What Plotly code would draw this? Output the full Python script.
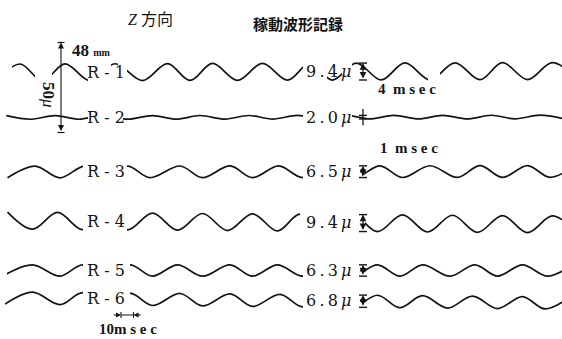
import numpy as np
import plotly.graph_objects as go

W, H = 562, 339
PX_PER_MS = 1.25   # chart speed: 10 msec = 12.5 px
PX_PER_UM = 1.8    # amplitude scale: 50 μ = 90 px

# ---- records -------------------------------------------------------------
records = ["R-1", "R-2", "R-3", "R-4", "R-5", "R-6"]
amplitude_um = [9.4, 2.0, 6.5, 9.4, 6.3, 6.8]          # peak-to-peak
first_is_peak = [False, True, False, True, False, False]

# times (msec) of successive extrema, alternating peak / trough
r1_ext_ms = [-3, 16, 34, 52, 72, 92, 114, 134, 152, 170, 190, 210, 230,
             248, 266, 285, 305, 324, 344, 364, 384, 402, 422, 442, 462]
r2_ext_ms = [5, 24, 44, 63, 82, 102, 122, 141, 160, 180, 199, 218, 238,
             258, 277, 296, 315, 335, 354, 374, 393, 412, 432, 451]
r3_ext_ms = [6, 28, 48, 68, 86, 102, 120, 144, 162, 184, 202, 223, 242,
             264, 284, 304, 322, 344, 366, 384, 402, 422, 440, 460]
r4_ext_ms = [6, 26, 46, 66, 84, 102, 122, 142, 162, 182, 202, 222, 240,
             262, 282, 302, 322, 342, 362, 382, 402, 422, 442, 462]
r5_ext_ms = [2, 26, 48, 66, 86, 104, 122, 142, 162, 184, 202, 222, 242,
             262, 282, 302, 320, 338, 360, 380, 398, 418, 438, 458]
r6_ext_ms = [4, 26, 48, 66, 86, 104, 122, 144, 162, 184, 202, 224, 242,
             262, 282, 302, 320, 338, 358, 378, 398, 418, 436, 456]
extrema_ms = [r1_ext_ms, r2_ext_ms, r3_ext_ms, r4_ext_ms, r5_ext_ms, r6_ext_ms]

scale_um = 50        # vertical reference bar
time_mark_ms = 10    # horizontal reference mark

# ---- layout helpers (page pixels -> axis units) -------------------------
def xm(px):
    return px / PX_PER_MS

def yu(py):
    return (H - py) / PX_PER_UM

# zero line of each record on the page: (left, right) in px
centre_px = [(72.5, 71.0), (117.5, 117.0), (172.0, 171.5),
             (220.5, 224.5), (270.5, 270.5), (298.0, 303.0)]

def centre_um(i, t):
    l, r = centre_px[i]
    f = np.clip(np.asarray(t, float) * PX_PER_MS / W, 0, 1)
    return yu(l + (r - l) * f)

# blank stretches of each trace (label space, start of record, breaks), px
gaps_px = [
    [(0, 12), (35, 52), (88, 111), (118, 127), (303, 327), (342, 352), (428, 440)],
    [(0, 5), (88, 123), (303, 352)],
    [(0, 7), (83, 127), (303, 362)],
    [(0, 7), (83, 127), (300, 365)],
    [(0, 7), (83, 130), (303, 362)],
    [(0, 5), (83, 130), (303, 362)],
]

INK = "#141414"
SERIF = "DejaVu Serif, Liberation Serif, serif"
TIMES = "Liberation Serif, DejaVu Serif, serif"
CJK = "Liberation Serif, Noto Sans CJK JP, serif"
THIN = "\u2009"

fig = go.Figure()
shapes = []
ann = []

for i, name in enumerate(records):
    t = np.asarray(extrema_ms[i], float)
    sign = np.array([1 if ((k % 2 == 0) == first_is_peak[i]) else -1
                     for k in range(len(t))])
    y = centre_um(i, t) + sign * amplitude_um[i] / 2
    fig.add_trace(go.Scatter(
        x=t, y=y, mode="lines", name=name,
        line=dict(color=INK, width=1.7, shape="spline", smoothing=1.0),
        hoverinfo="skip", showlegend=False))

    cy = centre_px[i][0]
    for a, b in gaps_px[i]:
        shapes.append(dict(type="rect", layer="above", xref="x", yref="y",
                           x0=xm(a), x1=xm(b), y0=yu(cy - 13), y1=yu(cy + 13),
                           fillcolor="white", line=dict(width=0)))

    # record name
    ann.append(dict(x=xm(106), y=centre_um(i, xm(106)), text=name.replace("-", " - "),
                    showarrow=False, font=dict(family=SERIF, size=16, color=INK)))

    # amplitude label and bar
    a = amplitude_um[i]
    ann.append(dict(x=xm(328), y=centre_um(i, xm(328)),
                    text=f"{a:.1f}".replace(".", THIN + "." + THIN) + THIN + "<i>μ</i>",
                    showarrow=False, font=dict(family=SERIF, size=16, color=INK)))
    c = centre_um(i, xm(363))
    top, bot = c + a / 2, c - a / 2
    bx = xm(363)
    for yy in (top, bot):
        shapes.append(dict(type="line", layer="above", xref="x", yref="y",
                           x0=bx - xm(4), x1=bx + xm(4), y0=yy, y1=yy,
                           line=dict(color=INK, width=1.4)))
    if a >= 4:
        ann.append(dict(x=bx, y=top, ax=bx, ay=bot, axref="x", ayref="y",
                        xref="x", yref="y", text="", showarrow=True,
                        arrowside="end+start", arrowhead=2, arrowsize=1.1,
                        arrowwidth=1.2, arrowcolor=INK, standoff=0, startstandoff=0))
    else:
        shapes.append(dict(type="line", layer="above", xref="x", yref="y",
                           x0=bx, x1=bx, y0=top + 3.5, y1=bot - 3.5,
                           line=dict(color=INK, width=1.3)))

# 50 μ vertical reference
vx = xm(61)
vtop = yu(42.5)
vbot = vtop - scale_um
ann.append(dict(x=vx, y=vtop, ax=vx, ay=vbot, axref="x", ayref="y",
                xref="x", yref="y", text="", showarrow=True,
                arrowside="end+start", arrowhead=2, arrowsize=1.1,
                arrowwidth=1.1, arrowcolor=INK, standoff=0, startstandoff=0))
for yy in (vtop, vbot):
    shapes.append(dict(type="line", layer="above", xref="x", yref="y",
                       x0=vx - xm(3.5), x1=vx + xm(3.5), y0=yy, y1=yy,
                       line=dict(color=INK, width=1.2)))
ann.append(dict(x=xm(49), y=yu(95), text="<b>50</b><i>μ</i>", textangle=90,
                showarrow=False, font=dict(family=TIMES, size=17, color=INK)))
ann.append(dict(x=xm(70), y=yu(50), xanchor="left",
                text="<b>48</b> <span style='font-size:10px'><b>mm</b></span>",
                showarrow=False, font=dict(family=TIMES, size=17, color=INK)))

# 10 msec time mark
ty = yu(315)
t0 = xm(121)
t1 = t0 + time_mark_ms
ann.append(dict(x=t0, y=ty, ax=t0 - 7, ay=ty, axref="x", ayref="y",
                xref="x", yref="y", text="", showarrow=True, arrowhead=2,
                arrowsize=1.0, arrowwidth=1.0, arrowcolor=INK, standoff=0))
ann.append(dict(x=t1, y=ty, ax=t1 + 7, ay=ty, axref="x", ayref="y",
                xref="x", yref="y", text="", showarrow=True, arrowhead=2,
                arrowsize=1.0, arrowwidth=1.0, arrowcolor=INK, standoff=0))
for tx in (t0, t1):
    shapes.append(dict(type="line", layer="above", xref="x", yref="y",
                       x0=tx, x1=tx, y0=ty - 1.6, y1=ty + 1.6,
                       line=dict(color=INK, width=1.1)))
shapes.append(dict(type="line", layer="above", xref="x", yref="y",
                   x0=t0, x1=t1, y0=ty, y1=ty, line=dict(color=INK, width=1.0)))

# headings and notes
ann += [
    dict(x=xm(150), y=yu(19), text="<i>Z</i> 方向", showarrow=False,
         font=dict(family=CJK, size=16, color=INK)),
    dict(x=xm(298), y=yu(24), text="<b>稼動波形記録</b>", showarrow=False,
         font=dict(family=CJK, size=15, color=INK)),
    dict(x=xm(407), y=yu(89), text="<b>4  m s e c</b>", showarrow=False,
         font=dict(family=TIMES, size=15, color=INK)),
    dict(x=xm(409), y=yu(148), text="<b>1  m s e c</b>", showarrow=False,
         font=dict(family=TIMES, size=15, color=INK)),
    dict(x=xm(128), y=yu(329), text="<b>10m s e c</b>", showarrow=False,
         font=dict(family=TIMES, size=15, color=INK)),
]

fig.update_layout(
    width=W, height=H, margin=dict(l=0, r=0, t=0, b=0),
    paper_bgcolor="white", plot_bgcolor="white",
    xaxis=dict(range=[0, W / PX_PER_MS], visible=False, fixedrange=True),
    yaxis=dict(range=[0, H / PX_PER_UM], visible=False, fixedrange=True),
    shapes=shapes, annotations=ann, showlegend=False,
)

fig.write_html("out.html")
